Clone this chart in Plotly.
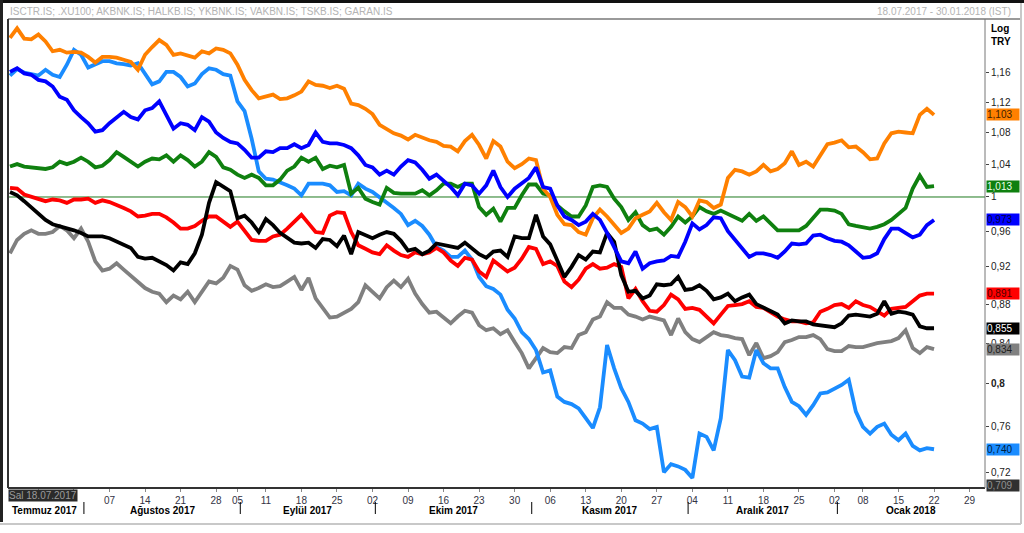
import math
import pandas as pd
import plotly.graph_objects as go

# ---------------- data ----------------
orange = [1.209,1.223,1.208,1.207,1.214,1.204,1.190,1.192,1.188,1.189,
          1.188,1.182,1.174,1.182,1.182,1.181,1.178,1.175,1.164,1.185,
          1.196,1.206,1.199,1.185,1.187,1.184,1.181,1.190,1.187,1.194,
          1.192,1.187,1.171,1.150,1.136,1.125,1.127,1.130,1.124,1.125,
          1.129,1.134,1.148,1.143,1.142,1.139,1.142,1.138,1.118,1.116,
          1.111,1.104,1.090,1.084,1.079,1.076,1.071,1.077,1.073,1.070,
          1.068,1.063,1.062,1.056,1.069,1.077,1.064,1.047,1.069,1.062,
          1.043,1.035,1.040,1.047,1.045,1.010,1.000,0.979,0.968,0.967,
          0.959,0.956,0.975,0.985,0.977,0.967,0.958,0.963,0.975,0.979,
          0.983,0.993,0.982,0.973,0.994,0.988,0.977,0.996,0.994,0.987,
          0.991,1.023,1.033,1.031,1.027,1.031,1.039,1.031,1.034,1.041,
          1.056,1.039,1.043,1.037,1.051,1.065,1.067,1.070,1.061,1.062,
          1.055,1.046,1.047,1.066,1.079,1.081,1.080,1.079,1.103,1.111,
          1.103]

lightblue = [1.156,1.165,1.160,1.158,1.156,1.164,1.157,1.154,1.171,1.192,
             1.185,1.167,1.171,1.176,1.176,1.173,1.172,1.170,1.173,1.159,
             1.144,1.148,1.161,1.161,1.154,1.141,1.145,1.158,1.166,1.164,
             1.158,1.156,1.121,1.108,1.072,1.031,1.022,1.021,1.018,1.014,
             1.010,1.002,1.016,1.016,1.016,1.014,1.006,1.007,1.002,1.016,
             1.010,1.006,1.000,0.994,0.987,0.980,0.967,0.972,0.966,0.956,
             0.942,0.938,0.931,0.931,0.938,0.928,0.909,0.899,0.896,0.890,
             0.874,0.865,0.851,0.844,0.833,0.811,0.813,0.788,0.783,0.781,
             0.777,0.768,0.759,0.778,0.838,0.815,0.796,0.783,0.766,0.763,
             0.758,0.760,0.720,0.727,0.725,0.722,0.715,0.754,0.751,0.739,
             0.768,0.833,0.823,0.807,0.806,0.833,0.820,0.815,0.815,0.797,
             0.783,0.779,0.771,0.780,0.791,0.792,0.795,0.799,0.804,0.774,
             0.760,0.754,0.760,0.763,0.753,0.748,0.754,0.743,0.739,0.741,
             0.740]

blue = [1.161,1.166,1.159,1.157,1.150,1.148,1.141,1.127,1.123,1.109,
        1.100,1.092,1.081,1.083,1.092,1.100,1.107,1.100,1.097,1.109,
        1.112,1.121,1.104,1.085,1.092,1.090,1.083,1.100,1.094,1.080,
        1.073,1.068,1.066,1.058,1.048,1.048,1.056,1.055,1.060,1.060,
        1.065,1.060,1.064,1.080,1.068,1.066,1.066,1.064,1.060,1.051,
        1.039,1.036,1.027,1.032,1.027,1.037,1.045,1.042,1.033,1.022,
        1.027,1.019,1.012,1.002,1.016,1.014,1.004,1.014,1.032,1.012,
        1.000,1.010,1.016,1.023,1.036,1.012,1.010,0.990,0.977,0.973,
        0.967,0.971,0.980,0.973,0.958,0.941,0.926,0.924,0.937,0.918,
        0.924,0.926,0.927,0.932,0.931,0.948,0.969,0.962,0.967,0.976,
        0.975,0.960,0.950,0.941,0.931,0.935,0.935,0.933,0.930,0.937,
        0.946,0.945,0.946,0.955,0.956,0.952,0.949,0.948,0.944,0.937,
        0.930,0.931,0.935,0.951,0.963,0.963,0.958,0.953,0.956,0.967,
        0.973]

green = [1.037,1.040,1.037,1.036,1.036,1.034,1.036,1.043,1.040,1.043,
         1.048,1.043,1.036,1.038,1.045,1.055,1.049,1.043,1.037,1.043,
         1.047,1.046,1.051,1.043,1.051,1.045,1.037,1.043,1.055,1.049,
         1.036,1.033,1.027,1.023,1.027,1.023,1.014,1.014,1.021,1.032,
         1.037,1.048,1.043,1.048,1.034,1.038,1.036,1.039,1.004,1.011,
         0.998,0.994,0.991,1.011,1.005,1.004,1.004,1.004,1.008,1.002,
         1.008,1.016,1.016,1.012,1.016,1.016,0.988,0.979,0.986,0.971,
         0.987,0.987,1.002,1.015,1.015,1.004,1.002,0.990,0.983,0.977,
         0.977,0.990,1.012,1.014,1.012,0.998,0.988,0.973,0.982,0.967,
         0.961,0.963,0.956,0.965,0.977,0.970,0.977,0.988,0.983,0.980,
         0.984,0.980,0.976,0.972,0.980,0.972,0.977,0.969,0.961,0.961,
         0.961,0.961,0.966,0.975,0.985,0.985,0.984,0.980,0.968,0.966,
         0.964,0.963,0.965,0.968,0.973,0.980,0.987,1.010,1.026,1.012,
         1.013]

red = [1.011,1.010,1.003,1.000,0.998,0.995,0.997,0.996,0.993,0.997,
       0.997,0.998,0.993,0.996,0.994,0.991,0.987,0.983,0.977,0.978,
       0.980,0.980,0.976,0.970,0.963,0.963,0.966,0.972,0.977,0.977,
       0.971,0.965,0.971,0.960,0.950,0.949,0.949,0.954,0.956,0.963,
       0.971,0.979,0.969,0.959,0.958,0.978,0.982,0.981,0.959,0.944,
       0.940,0.936,0.934,0.944,0.938,0.933,0.931,0.936,0.934,0.936,
       0.941,0.936,0.927,0.921,0.930,0.928,0.915,0.909,0.927,0.921,
       0.915,0.919,0.929,0.942,0.940,0.923,0.926,0.921,0.904,0.898,
       0.906,0.918,0.923,0.918,0.919,0.923,0.920,0.886,0.896,0.883,
       0.873,0.872,0.879,0.890,0.885,0.875,0.876,0.874,0.867,0.860,
       0.869,0.878,0.879,0.880,0.883,0.877,0.876,0.871,0.867,0.864,
       0.862,0.862,0.860,0.861,0.872,0.875,0.879,0.880,0.876,0.883,
       0.879,0.877,0.873,0.868,0.875,0.876,0.877,0.883,0.889,0.891,
       0.891]

black = [1.006,1.002,0.995,0.988,0.980,0.973,0.968,0.966,0.963,0.961,
         0.958,0.954,0.954,0.954,0.952,0.948,0.944,0.941,0.931,0.929,
         0.930,0.926,0.922,0.916,0.925,0.923,0.935,0.956,0.993,1.018,
         1.012,1.007,0.975,0.978,0.970,0.959,0.974,0.967,0.958,0.952,
         0.947,0.946,0.947,0.941,0.951,0.950,0.943,0.955,0.934,0.959,
         0.956,0.952,0.956,0.959,0.957,0.949,0.938,0.940,0.934,0.938,
         0.946,0.944,0.943,0.941,0.947,0.940,0.934,0.930,0.937,0.938,
         0.931,0.954,0.952,0.952,0.979,0.954,0.945,0.927,0.909,0.920,
         0.933,0.928,0.937,0.936,0.958,0.948,0.911,0.893,0.894,0.886,
         0.889,0.901,0.900,0.901,0.909,0.895,0.896,0.900,0.894,0.885,
         0.887,0.891,0.883,0.887,0.890,0.880,0.876,0.872,0.869,0.860,
         0.863,0.862,0.862,0.859,0.858,0.857,0.856,0.860,0.868,0.869,
         0.868,0.867,0.870,0.883,0.870,0.872,0.871,0.869,0.857,0.855,
         0.855]

gray = [0.935,0.950,0.957,0.961,0.957,0.957,0.959,0.966,0.961,0.952,
        0.963,0.948,0.926,0.916,0.918,0.924,0.917,0.910,0.904,0.897,
        0.893,0.891,0.882,0.889,0.885,0.893,0.882,0.893,0.904,0.902,
        0.908,0.921,0.917,0.900,0.894,0.897,0.901,0.898,0.899,0.904,
        0.909,0.895,0.908,0.886,0.876,0.866,0.867,0.871,0.875,0.882,
        0.900,0.893,0.886,0.898,0.905,0.898,0.907,0.891,0.880,0.871,
        0.872,0.866,0.860,0.867,0.873,0.871,0.858,0.853,0.855,0.849,
        0.853,0.841,0.830,0.815,0.825,0.835,0.831,0.830,0.836,0.835,
        0.848,0.851,0.864,0.867,0.882,0.876,0.876,0.869,0.867,0.864,
        0.867,0.865,0.863,0.848,0.865,0.851,0.844,0.841,0.846,0.851,
        0.848,0.847,0.845,0.844,0.828,0.840,0.825,0.827,0.831,0.841,
        0.843,0.846,0.846,0.848,0.844,0.834,0.832,0.832,0.837,0.836,
        0.836,0.838,0.840,0.841,0.842,0.845,0.853,0.835,0.830,0.836,
        0.834]

series_colors = {"gray": "#808080", "lightblue": "#1A8CFF", "red": "#FF0000",
                 "black": "#000000", "green": "#0F800F", "orange": "#FF8000",
                 "blue": "#0000FF"}
series_values = {"gray": gray, "lightblue": lightblue, "red": red, "black": black,
                 "green": green, "orange": orange, "blue": blue}

# last-value labels on the right (value, background, text colour)
end_labels = [(1.103, "#FF8000", "#402000"), (1.013, "#0F800F", "#E8FFE8"),
              (0.973, "#0000FF", "#000040"), (0.891, "#FF0000", "#500000"),
              (0.855, "#000000", "#FFFFFF"), (0.834, "#808080", "#202020"),
              (0.740, "#1A8CFF", "#002040"), (0.709, "#303030", "#909090")]

y_ticks = [0.72, 0.76, 0.8, 0.84, 0.88, 0.92, 0.96, 1.0, 1.04, 1.08, 1.12, 1.16]
y_ticktext = ["0,72", "0,76", "<b>0,8</b>", "0,84", "0,88", "0,92", "0,96", "1",
              "1,04", "1,08", "1,12", "1,16"]

month_names = {7: "Temmuz", 8: "Ağustos", 9: "Eylül", 10: "Ekim", 11: "Kasım",
               12: "Aralık", 1: "Ocak"}

# ---------------- trading-day axis ----------------
holidays = pd.to_datetime(["2017-08-30", "2017-09-01", "2017-09-04", "2018-01-01"])
days = pd.bdate_range("2017-07-18", "2018-01-30")
days = days[~days.isin(holidays)]
n = len(orange)
xs = list(range(n))

XMIN, XMAX = -0.28, 137.17

tickvals, ticktext = [], []
month_starts = []
for i in range(1, len(days)):
    d, p = days[i], days[i - 1]
    if d.isocalendar()[1] != p.isocalendar()[1]:
        tickvals.append(i)
        # first weeks are hidden behind the start-date box in the reference
        ticktext.append(d.strftime("%d") if i > 9 else "")
    if d.month != p.month:
        month_starts.append(i)

FONT = "Liberation Sans, Arial, sans-serif"

fig = go.Figure()

# reference line at 1
fig.add_trace(go.Scatter(x=[XMIN, XMAX], y=[1, 1], mode="lines",
                         line=dict(color="#1E7A1E", width=1), hoverinfo="skip",
                         showlegend=False))

for name in ["gray", "lightblue", "red", "black", "green", "orange", "blue"]:
    fig.add_trace(go.Scatter(x=xs, y=series_values[name], mode="lines", name=name,
                             line=dict(color=series_colors[name], width=3.8),
                             showlegend=False))

W, H = 1024, 533
L, R, T, B = 8, 39, 19, 45
pw, ph = W - L - R, H - T - B


def px(xp):
    return (xp - L) / pw


def py(yp):
    return (H - B - yp) / ph


shapes = []
# outer window decorations
shapes.append(dict(type="rect", xref="paper", yref="paper", x0=px(0), x1=px(W), y0=py(0), y1=py(3),
                   fillcolor="#111111", line=dict(width=0), layer="above"))
shapes.append(dict(type="rect", xref="paper", yref="paper", x0=px(0), x1=px(3), y0=py(0), y1=py(522),
                   fillcolor="#222222", line=dict(width=0), layer="above"))
shapes.append(dict(type="line", xref="paper", yref="paper", x0=px(0), x1=px(1021), y0=py(524), y1=py(524),
                   line=dict(color="#C8C8C8", width=2), layer="below"))
shapes.append(dict(type="line", xref="paper", yref="paper", x0=px(1021), x1=px(1021), y0=py(0), y1=py(524),
                   line=dict(color="#C8C8C8", width=2), layer="below"))
# plot frame
shapes.append(dict(type="line", xref="paper", yref="paper", x0=px(8), x1=px(1020), y0=1, y1=1,
                   line=dict(color="#9A9A9A", width=2)))
shapes.append(dict(type="line", xref="paper", yref="paper", x0=0, x1=0, y0=0, y1=1,
                   line=dict(color="#333333", width=2)))
shapes.append(dict(type="line", xref="paper", yref="paper", x0=0, x1=1, y0=0, y1=0,
                   line=dict(color="#333333", width=2)))
shapes.append(dict(type="line", xref="paper", yref="paper", x0=1, x1=1, y0=0, y1=1,
                   line=dict(color="#777777", width=1)))

# month separators
seps = [m + 0.4 for m in month_starts]
for s in seps:
    shapes.append(dict(type="line", xref="x", yref="paper", x0=s, x1=s, y0=py(502), y1=py(514),
                       line=dict(color="#000000", width=1)))

annotations = []
# header
annotations.append(dict(xref="paper", yref="paper", x=px(8), y=py(11), xanchor="left", yanchor="middle",
                        text="ISCTR.IS; .XU100; AKBNK.IS; HALKB.IS; YKBNK.IS; VAKBN.IS; TSKB.IS; GARAN.IS",
                        showarrow=False, font=dict(family=FONT, size=10, color="#B4B4B4")))
annotations.append(dict(xref="paper", yref="paper", x=px(1013), y=py(11), xanchor="right", yanchor="middle",
                        text="18.07.2017 - 30.01.2018 (IST)", showarrow=False,
                        font=dict(family=FONT, size=10, color="#B4B4B4")))
annotations.append(dict(xref="paper", yref="paper", x=px(989), y=py(21), xanchor="left", yanchor="top",
                        text="<b>Log</b><br><b>TRY</b>", align="left", showarrow=False,
                        font=dict(family=FONT, size=10, color="#000000")))

# month labels
bounds = [XMIN] + seps + [XMAX]
for k in range(len(bounds) - 1):
    first_day = days[0] if k == 0 else days[month_starts[k - 1]]
    label = f"<b>{month_names[first_day.month]} {first_day.year}</b>"
    if k == 0:
        annotations.append(dict(xref="x", yref="paper", x=0, y=py(510), xanchor="left", yanchor="middle",
                                text=label, showarrow=False, font=dict(family=FONT, size=10, color="#000")))
    else:
        annotations.append(dict(xref="x", yref="paper", x=(bounds[k] + bounds[k + 1]) / 2, y=py(510),
                                xanchor="center", yanchor="middle", text=label, showarrow=False,
                                font=dict(family=FONT, size=10, color="#000")))

# start-date box
annotations.append(dict(xref="paper", yref="paper", x=px(8), y=py(495), xanchor="left", yanchor="middle",
                        text="Sal 18.07.2017", showarrow=False, bgcolor="#2A2A2A", borderpad=0,
                        font=dict(family=FONT, size=10, color="#9A9A9A")))

# last-value labels
for v, bg, fg in end_labels:
    annotations.append(dict(xref="paper", yref="y", x=1, y=math.log10(v), xanchor="left", yanchor="middle",
                            xshift=1, text=f"{v:.3f}".replace(".", ","), showarrow=False, bgcolor=bg,
                            width=32, align="left", borderpad=0,
                            font=dict(family=FONT, size=10, color=fg)))

fig.update_layout(
    width=W, height=H, margin=dict(l=L, r=R, t=T, b=B),
    paper_bgcolor="#FFFFFF", plot_bgcolor="#FFFFFF", showlegend=False,
    shapes=shapes, annotations=annotations,
    xaxis=dict(range=[XMIN, XMAX], tickvals=tickvals, ticktext=ticktext, showgrid=False,
               zeroline=False, ticks="outside", ticklen=3, tickcolor="#888",
               tickfont=dict(family=FONT, size=10, color="#333344"), showline=False),
    yaxis=dict(type="log", range=[math.log10(0.70655), math.log10(1.2367)], side="right",
               tickvals=y_ticks, ticktext=y_ticktext, showgrid=False, zeroline=False,
               ticks="outside", ticklen=3, tickcolor="#444",
               tickfont=dict(family=FONT, size=10, color="#222222"), showline=False),
)

fig.write_html("out.html", config={"displayModeBar": False},
               post_script="document.body.style.margin='0';document.body.style.overflow='hidden';")
